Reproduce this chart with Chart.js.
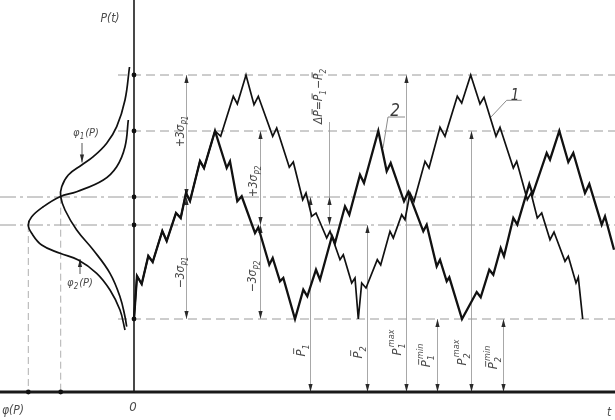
<!DOCTYPE html>
<html><head><meta charset="utf-8">
<script src="https://cdn.jsdelivr.net/npm/chart.js@4.4.1/dist/chart.umd.min.js"></script>
<style>html,body{margin:0;padding:0;background:#fff;}#wrap{width:615px;height:420px;}</style>
</head><body><div id="wrap"><canvas id="c" width="615" height="420"></canvas></div>
<script>
// ---- data (t and P in drawing units) ----
const levelNames  = ['P1max', 'P2max', 'P1mean', 'P2mean', 'Pmin'];
const levelValues = [31.7, 26.1, 19.5, 16.7, 7.3];

const curve1T = [0,0.3,0.77,1.43,1.87,2.83,3.27,4.2,4.67,5.2,5.6,6.6,7.0,8.1,8.67,9.93,10.33,11.2,12.0,12.43,13.87,14.27,15.53,15.93,16.87,17.2,17.77,18.2,19.27,19.6,20.6,20.93,21.77,22.1,22.43,22.77,23.2,24.33,24.67,25.6,25.93,26.77,27.1,27.6,28.0,29.1,29.5,30.6,31.1,32.33,32.77,33.67,34.6,35.0,36.2,36.6,37.93,38.27,39.33,39.7,40.33,40.77,41.6,42.0,43.1,43.43,44.2,44.43,44.87];
const curve1P = [7.3,11.6,10.8,13.6,13.0,16.1,15.1,17.9,17.4,19.9,19.1,23.1,22.4,26.1,25.57,29.57,28.8,31.7,28.73,29.57,25.57,26.4,22.47,23.0,19.23,19.9,17.57,17.9,15.4,16.07,13.23,13.73,10.9,11.4,7.3,10.9,10.4,13.23,12.7,16.07,15.4,17.73,17.23,19.9,19.07,23.07,22.4,26.47,25.57,29.57,28.9,31.7,28.8,29.47,25.57,26.47,22.4,23.07,19.23,19.9,17.4,17.9,15.23,16.0,13.07,13.57,10.9,11.47,7.3];

const curve2T = [0,0.3,0.77,1.43,1.87,2.83,3.27,4.2,4.67,5.2,5.6,6.6,7.0,8.1,9.27,9.6,10.33,10.77,12.1,12.43,13.53,13.87,14.6,14.93,16.1,16.93,17.33,18.2,18.6,19.8,20.1,21.1,21.53,22.6,23.0,24.43,25.27,25.67,27.0,27.43,28.93,29.27,30.27,30.6,31.27,31.53,32.8,34.27,34.67,35.53,35.93,36.67,37.0,37.93,38.33,39.53,39.87,41.27,41.6,42.53,43.43,43.93,45.1,45.53,46.77,47.1,48.0];
const curve2P = [7.3,11.6,10.8,13.6,13.0,16.1,15.1,17.9,17.4,19.9,19.1,23.1,22.4,26.1,22.4,23.07,19.07,19.57,15.9,16.47,12.73,13.4,11.07,11.4,7.3,10.23,9.57,12.23,11.23,15.6,14.9,18.57,17.73,21.73,20.9,26.1,22.07,22.9,19.07,20.0,16.07,16.73,12.57,13.23,11.07,11.47,7.3,10.0,9.47,12.23,11.73,14.4,13.57,17.4,16.73,20.8,19.8,23.9,23.23,26.1,23.0,23.9,19.9,20.8,16.73,17.57,14.23];

const phi1Values = [0.45,0.9,1.73,2.73,4.07,5.23,6.57,7.23,7.33,6.9,5.73,4.07,2.4,1.4,0.9,0.73];
const phi1P      = [32.5,29.2,26.53,24.87,23.53,22.7,21.7,20.53,19.53,18.2,16.2,14.2,11.87,9.53,7.53,6.53];
const phi2Values = [0.57,0.9,1.73,3.07,5.73,7.4,9.07,10.23,10.57,10.23,9.23,7.4,5.57,3.73,2.4,1.4,0.9];
const phi2P      = [27.2,24.53,22.53,21.2,20.03,19.53,18.53,17.53,16.7,15.87,14.7,13.87,13.2,11.87,10.2,8.2,6.2];

// ---- helpers ----
const L = Object.fromEntries(levelNames.map((n,i)=>[n, levelValues[i]]));
const xy = (xs, ys) => xs.map((x,i)=>({x, y: ys[i]}));
const peakOf = (vals, ps) => { let k = vals.indexOf(Math.max(...vals)); return {phi: vals[k], P: ps[k]}; };
const pk1 = peakOf(phi1Values, phi1P), pk2 = peakOf(phi2Values, phi2P);
const X0 = -13.4, X1 = 48.1;
const FONT = "'Liberation Sans Narrow','DejaVu Sans Condensed','Liberation Sans',sans-serif";
const GUIDE = '#9a9a9a';

const line = (data, o) => Object.assign({data, showLine:true, pointRadius:0, borderColor:'#111', borderWidth:1.5, tension:0, fill:false}, o);

const datasets = [
  line(xy(curve2T, curve2P), {borderWidth:2.3, order:1}),
  line(xy(curve1T, curve1P), {borderWidth:1.7, order:2}),
  line(xy(phi1Values.map(v=>-v), phi1P), {borderWidth:1.7, tension:0.4, order:3}),
  line(xy(phi2Values.map(v=>-v), phi2P), {borderWidth:1.7, tension:0.4, order:3}),
  // axes
  line([{x:X0,y:0},{x:X1,y:0}], {borderWidth:2.8, borderColor:'#1a1a1a', order:4}),
  line([{x:0,y:0},{x:0,y:39.2}], {borderWidth:1.6, borderColor:'#1a1a1a', order:4}),
  // dashed level lines
  ...['P1max','P2max','Pmin'].map(n => line([{x:-1.6,y:L[n]},{x:X1,y:L[n]}], {borderWidth:1, borderColor:GUIDE, borderDash:[9,5], order:8})),
  // dash-dot mean lines
  ...['P1mean','P2mean'].map(n => line([{x:X0,y:L[n]},{x:X1,y:L[n]}], {borderWidth:1, borderColor:GUIDE, borderDash:[16,4,3,4], order:8})),
  // peak projection lines
  line([{x:-pk1.phi,y:pk1.P},{x:-pk1.phi,y:0}], {borderWidth:1, borderColor:'#b0b0b0', borderDash:[7,4], order:8}),
  line([{x:-pk2.phi,y:pk2.P},{x:-pk2.phi,y:0}], {borderWidth:1, borderColor:'#b0b0b0', borderDash:[7,4], order:8}),
  // dots
  {data: [...levelValues.map(v=>({x:0,y:v})), {x:-pk1.phi,y:0},{x:-pk2.phi,y:0}], pointRadius:2.4, pointBackgroundColor:'#111', pointBorderWidth:0, showLine:false, order:0}
];

// dimension lines (t position, from, to, arrows)
const dims = [
  {t:5.15, a:L.P1max, b:L.Pmin, arrows:[[L.P1max,'up'],[L.Pmin,'down'],[L.P1mean,'down'],[L.P1mean,'up']]},
  {t:12.6, a:L.P2max, b:L.Pmin, arrows:[[L.P2max,'up'],[L.Pmin,'down'],[L.P2mean,'down'],[L.P2mean,'up']]},
  {t:19.5, a:27.0, b:L.P2mean, arrows:[[L.P1mean,'up'],[L.P2mean,'down']]},
  {t:17.6, a:L.P1mean, b:0, arrows:[[L.P1mean,'up'],[0,'down']]},
  {t:23.3, a:L.P2mean, b:0, arrows:[[L.P2mean,'up'],[0,'down']]},
  {t:27.2, a:L.P1max, b:0, arrows:[[L.P1max,'up'],[0,'down']]},
  {t:30.3, a:L.Pmin, b:0, arrows:[[L.Pmin,'up'],[0,'down']]},
  {t:33.7, a:L.P2max, b:0, arrows:[[L.P2max,'up'],[0,'down']]},
  {t:36.9, a:L.Pmin, b:0, arrows:[[L.Pmin,'up'],[0,'down']]},
];
const leaders = [
  [[24.9,24.4],[25.4,27.5],[27.1,27.5]],
  [[35.67,27.47],[37.27,29.17],[38.77,29.17]],
];
const pointers = [ {t:-5.2, from:24.9, to:22.95}, {t:-5.4, from:11.8, to:13.3} ];

const V = -Math.PI/2;
const labels = [
  {t:-2.4, p:37.4, r:0, s:12, parts:[{t:'P(t)'}]},
  {t:-4.8, p:26.0, r:0, s:11, parts:[{t:'φ'},{sub:'1'},{t:'(P)'}]},
  {t:-5.4, p:11.0, r:0, s:11, parts:[{t:'φ'},{sub:'2'},{t:'(P)'}]},
  {t:-12.1, p:-1.8, r:0, s:12, parts:[{t:'φ(P)'}]},
  {t:-0.1, p:-1.4, r:0, s:13, parts:[{t:'0'}]},
  {t:47.5, p:-2.0, r:0, s:12, parts:[{t:'t'}]},
  {t:4.6, p:26.1, r:V, s:12, parts:[{t:'+3σ'},{sub:'P1'}]},
  {t:4.6, p:12.0, r:V, s:12, parts:[{t:'−3σ'},{sub:'P1'}]},
  {t:11.9, p:21.1, r:V, s:12, parts:[{t:'+3σ'},{sub:'P2'}]},
  {t:11.8, p:11.6, r:V, s:12, parts:[{t:'−3σ'},{sub:'P2'}]},
  {t:18.4, p:29.6, r:V, s:12, parts:[{t:'Δ'},{t:'P',bar:true},{t:'='},{t:'P',bar:true},{sub:'1'},{t:'−'},{t:'P',bar:true},{sub:'2'}]},
  {t:16.6, p:4.2, r:V, s:13, parts:[{t:'P',bar:true},{sub:'1'}]},
  {t:22.3, p:4.0, r:V, s:13, parts:[{t:'P',bar:true},{sub:'2'}]},
  {t:26.2, p:5.0, r:V, s:13, parts:[{t:'P'},{sub:'1',sup:'max'}]},
  {t:29.1, p:3.7, r:V, s:13, parts:[{t:'P',bar:true},{sub:'1',sup:'min'}]},
  {t:32.7, p:4.0, r:V, s:13, parts:[{t:'P'},{sub:'2',sup:'max'}]},
  {t:35.8, p:3.5, r:V, s:13, parts:[{t:'P',bar:true},{sub:'2',sup:'min'}]},
  {t:26.1, p:28.2, r:0, s:17, c:'#3a3a3a', parts:[{t:'2'}]},
  {t:38.1, p:29.7, r:0, s:15, c:'#3a3a3a', parts:[{t:'1'}]},
];

function rich(ctx, x, y, rot, parts, size, color){
  ctx.save(); ctx.translate(x,y); ctx.rotate(rot);
  const F = s => `italic ${s}px ${FONT}`;
  const sm = Math.round(size*0.7);
  const widths = parts.map(p=>{
    if (p.t!==undefined){ ctx.font=F(size); return ctx.measureText(p.t).width; }
    ctx.font=F(sm);
    return Math.max(p.sub?ctx.measureText(p.sub).width:0, p.sup?ctx.measureText(p.sup).width+size*0.1:0)+1;
  });
  const w = widths.reduce((a,b)=>a+b,0);
  let cx = -w/2; const base = size*0.36;
  ctx.fillStyle=color; ctx.strokeStyle=color; ctx.textBaseline='alphabetic'; ctx.textAlign='left';
  parts.forEach((p,i)=>{
    if (p.t!==undefined){
      ctx.font=F(size); ctx.fillText(p.t,cx,base);
      if (p.bar){ ctx.lineWidth=0.9; ctx.beginPath(); ctx.moveTo(cx+size*0.2, base-size*0.85); ctx.lineTo(cx+widths[i]+size*0.1, base-size*0.85); ctx.stroke(); }
    } else {
      ctx.font=F(sm);
      if (p.sub) ctx.fillText(p.sub, cx, base+size*0.3);
      if (p.sup) ctx.fillText(p.sup, cx+size*0.1, base-size*0.55);
    }
    cx += widths[i];
  });
  ctx.restore();
}
function arrow(ctx, x, y, dir){
  const l=8, h=2.1, s = dir==='up'?1:-1;
  ctx.beginPath(); ctx.moveTo(x,y); ctx.lineTo(x-h,y+s*l); ctx.lineTo(x+h,y+s*l); ctx.closePath(); ctx.fill();
}

const annot = {
  id:'annot',
  beforeDatasetsDraw(chart){
    const ctx=chart.ctx, X=v=>chart.scales.x.getPixelForValue(v), Y=v=>chart.scales.y.getPixelForValue(v);
    ctx.save();
    ctx.strokeStyle='#a8a8a8'; ctx.lineWidth=1; ctx.fillStyle='#2a2a2a';
    dims.forEach(d=>{
      const x=Math.round(X(d.t))+0.5;
      ctx.beginPath(); ctx.moveTo(x,Y(d.a)); ctx.lineTo(x,Y(d.b)); ctx.stroke();
      d.arrows.forEach(([p,dir])=>arrow(ctx,x,Y(p),dir));
    });
    ctx.strokeStyle='#8a8a8a';
    leaders.forEach(pts=>{ ctx.beginPath(); pts.forEach(([t,p],i)=> i?ctx.lineTo(X(t),Y(p)):ctx.moveTo(X(t),Y(p))); ctx.stroke(); });
    ctx.strokeStyle='#555';
    pointers.forEach(pt=>{ const x=X(pt.t); ctx.beginPath(); ctx.moveTo(x,Y(pt.from)); ctx.lineTo(x,Y(pt.to)); ctx.stroke(); arrow(ctx,x,Y(pt.to), pt.to<pt.from?'down':'up'); });
    ctx.restore();
  },
  afterDatasetsDraw(chart){
    const ctx=chart.ctx, X=v=>chart.scales.x.getPixelForValue(v), Y=v=>chart.scales.y.getPixelForValue(v);
    labels.forEach(l=>rich(ctx, X(l.t), Y(l.p), l.r, l.parts, l.s, l.c||'#4a4a4a'));
  }
};

new Chart(document.getElementById('c'), {
  type:'scatter',
  data:{datasets},
  options:{
    responsive:false, animation:false, devicePixelRatio:1,
    layout:{padding:0, autoPadding:false},
    plugins:{legend:{display:false}, tooltip:{enabled:false}},
    scales:{
      x:{type:'linear', min:X0, max:X1, display:false},
      y:{type:'linear', min:-2.8, max:39.2, display:false}
    }
  },
  plugins:[annot]
});
</script></body></html>
